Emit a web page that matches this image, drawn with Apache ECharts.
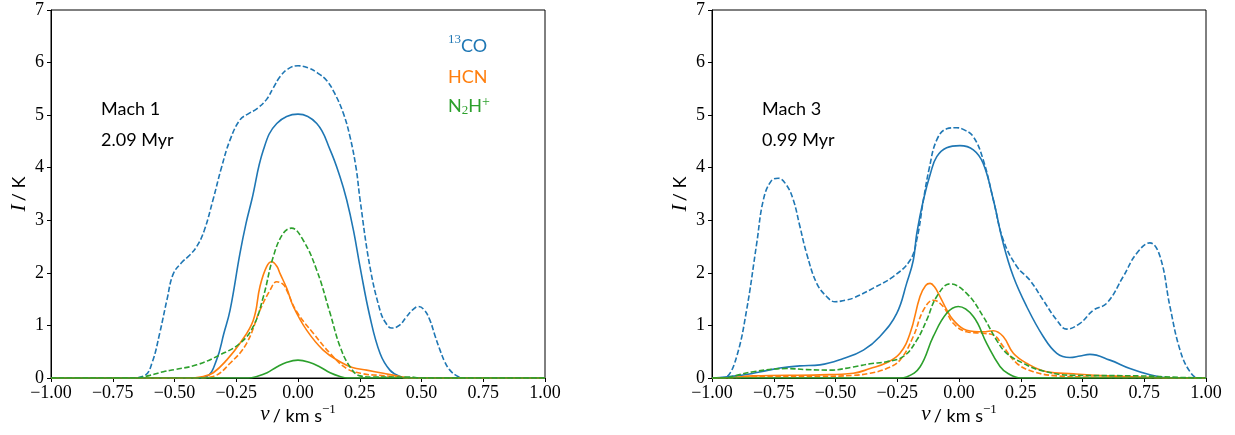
<!DOCTYPE html>
<html>
<head>
<meta charset="utf-8">
<script src="https://cdn.jsdelivr.net/npm/echarts@6/dist/echarts.min.js"></script>
<style>
html,body{margin:0;padding:0;background:#fff;}
#chart{width:1235px;height:435px;}
</style>
</head>
<body>
<div id="chart"></div>
<script>
// ---------- DATA (velocity v in km/s, intensity I in K) ----------
// Panel 1: Mach 1, 2.09 Myr
const m1CoSolidV = [-1, -0.42, -0.37, -0.33, -0.3, -0.275, -0.235, -0.21, -0.187, -0.14, -0.086, 0, 0.076, 0.13, 0.17, 0.197, 0.225, 0.251, 0.291, 0.332, 0.372, 0.413, 0.45, 1];
const m1CoSolidI = [0, 0, 0.03, 0.34, 0.85, 1.29, 2.37, 2.95, 3.39, 4.34, 4.84, 5.02, 4.84, 4.34, 3.83, 3.39, 2.8, 2.12, 1.17, 0.47, 0.15, 0.03, 0, 0];
const m1CoDashV = [-1, -0.68, -0.62, -0.59, -0.56, -0.53, -0.505, -0.47, -0.44, -0.41, -0.38, -0.344, -0.31, -0.275, -0.235, -0.2, -0.167, -0.127, -0.1, -0.073, -0.04, 0, 0.04, 0.08, 0.116, 0.15, 0.184, 0.21, 0.235, 0.251, 0.291, 0.332, 0.355, 0.379, 0.41, 0.44, 0.465, 0.487, 0.51, 0.534, 0.555, 0.575, 0.595, 0.615, 0.64, 0.67, 1];
const m1CoDashI = [0, 0, 0.05, 0.3, 0.85, 1.5, 1.98, 2.2, 2.33, 2.5, 2.8, 3.39, 4.0, 4.53, 4.91, 5.03, 5.12, 5.3, 5.52, 5.73, 5.88, 5.94, 5.9, 5.8, 5.66, 5.4, 5.03, 4.6, 4.0, 3.4, 2.12, 1.29, 1.05, 0.95, 1.0, 1.17, 1.3, 1.36, 1.3, 1.1, 0.8, 0.53, 0.3, 0.15, 0.05, 0, 0];
const m1HcnSolidV = [-1, -0.45, -0.383, -0.343, -0.289, -0.235, -0.181, -0.154, -0.127, -0.106, -0.085, -0.073, -0.045, -0.019, 0.035, 0.102, 0.17, 0.22, 0.278, 0.345, 0.40, 0.45, 1];
const m1HcnSolidI = [0, 0, 0.03, 0.1, 0.34, 0.66, 1.10, 1.74, 2.12, 2.21, 2.12, 1.99, 1.7, 1.36, 0.91, 0.53, 0.31, 0.2, 0.15, 0.09, 0.04, 0, 0];
const m1HcnDashV = [-1, -0.4, -0.343, -0.275, -0.208, -0.154, -0.113, -0.086, -0.06, -0.046, -0.005, 0.062, 0.13, 0.197, 0.264, 0.33, 0.4, 0.45, 1];
const m1HcnDashI = [0, 0, 0.03, 0.28, 0.66, 1.29, 1.67, 1.83, 1.78, 1.67, 1.26, 0.85, 0.47, 0.18, 0.08, 0.05, 0.02, 0, 0];
const m1N2hSolidV = [-1, -0.2, -0.167, -0.125, -0.086, -0.045, 0, 0.045, 0.089, 0.13, 0.17, 0.2, 1];
const m1N2hSolidI = [0, 0, 0.03, 0.1, 0.21, 0.3, 0.34, 0.3, 0.21, 0.1, 0.03, 0, 0];
const m1N2hDashV = [-1, -0.66, -0.6, -0.545, -0.5, -0.41, -0.316, -0.235, -0.181, -0.14, -0.1, -0.06, -0.026, 0.021, 0.076, 0.13, 0.17, 0.211, 0.251, 0.3, 0.45, 0.5, 1];
const m1N2hDashI = [0, 0, 0.05, 0.12, 0.16, 0.25, 0.44, 0.66, 0.98, 1.55, 2.31, 2.75, 2.85, 2.62, 2.05, 1.23, 0.60, 0.21, 0.04, 0.02, 0.02, 0, 0];

// Panel 2: Mach 3, 0.99 Myr
const m3CoSolidV = [-1, -0.968, -0.9, -0.833, -0.78, -0.725, -0.644, -0.563, -0.468, -0.387, -0.32, -0.252, -0.212, -0.185, -0.171, -0.144, -0.115, -0.09, -0.05, 0.004, 0.058, 0.098, 0.139, 0.179, 0.22, 0.274, 0.341, 0.396, 0.449, 0.49, 0.53, 0.611, 0.692, 0.773, 0.83, 0.9, 1];
const m3CoSolidI = [0, 0.01, 0.04, 0.09, 0.14, 0.19, 0.23, 0.25, 0.37, 0.53, 0.79, 1.23, 1.80, 2.24, 2.75, 3.39, 3.9, 4.21, 4.38, 4.42, 4.34, 4.08, 3.39, 2.56, 1.93, 1.36, 0.79, 0.47, 0.39, 0.42, 0.45, 0.34, 0.18, 0.06, 0.01, 0, 0];
const m3CoDashV = [-1, -0.96, -0.94, -0.9, -0.86, -0.819, -0.792, -0.76, -0.732, -0.7, -0.671, -0.645, -0.617, -0.576, -0.536, -0.502, -0.46, -0.428, -0.347, -0.266, -0.198, -0.17, -0.144, -0.12, -0.09, -0.05, -0.01, 0.017, 0.058, 0.098, 0.139, 0.179, 0.234, 0.287, 0.341, 0.396, 0.436, 0.49, 0.544, 0.598, 0.665, 0.719, 0.773, 0.814, 0.854, 0.895, 0.935, 0.97, 1];
const m3CoDashI = [0, 0, 0.02, 0.41, 1.29, 2.56, 3.39, 3.75, 3.80, 3.68, 3.39, 2.9, 2.37, 1.80, 1.55, 1.45, 1.48, 1.52, 1.71, 1.93, 2.24, 2.65, 3.39, 4.0, 4.53, 4.74, 4.76, 4.73, 4.59, 4.15, 3.39, 2.63, 2.12, 1.86, 1.48, 1.10, 0.93, 1.04, 1.29, 1.42, 1.93, 2.37, 2.57, 2.31, 1.36, 0.53, 0.12, 0, 0];
const m3HcnSolidV = [-1, -0.95, -0.833, -0.563, -0.428, -0.36, -0.293, -0.239, -0.198, -0.158, -0.135, -0.117, -0.1, -0.077, -0.05, -0.023, 0.031, 0.098, 0.139, 0.179, 0.22, 0.274, 0.355, 0.463, 0.6, 0.73, 0.85, 1];
const m3HcnSolidI = [0, 0, 0.04, 0.06, 0.09, 0.18, 0.29, 0.47, 0.85, 1.55, 1.76, 1.80, 1.74, 1.55, 1.3, 1.10, 0.91, 0.88, 0.90, 0.79, 0.47, 0.28, 0.12, 0.08, 0.04, 0.02, 0, 0];
const m3HcnDashV = [-1, -0.95, -0.833, -0.563, -0.428, -0.36, -0.293, -0.239, -0.185, -0.144, -0.104, -0.064, -0.023, 0.031, 0.098, 0.139, 0.179, 0.234, 0.301, 0.396, 0.5, 0.7, 1];
const m3HcnDashI = [0, 0, 0.02, 0.03, 0.05, 0.09, 0.18, 0.34, 0.79, 1.29, 1.48, 1.36, 1.04, 0.88, 0.85, 0.82, 0.60, 0.28, 0.12, 0.04, 0.02, 0.01, 0];
const m3N2hSolidV = [-1, -0.24, -0.212, -0.158, -0.104, -0.05, -0.003, 0.058, 0.112, 0.166, 0.2, 0.25, 1];
const m3N2hSolidI = [0, 0, 0.02, 0.21, 0.79, 1.23, 1.36, 1.17, 0.66, 0.22, 0.08, 0, 0];
const m3N2hDashV = [-1, -0.95, -0.9, -0.833, -0.698, -0.617, -0.522, -0.428, -0.36, -0.293, -0.225, -0.171, -0.131, -0.09, -0.036, 0.031, 0.098, 0.152, 0.193, 0.26, 0.328, 0.46, 0.73, 0.9, 1];
const m3N2hDashI = [0, 0, 0.05, 0.12, 0.18, 0.16, 0.15, 0.21, 0.27, 0.31, 0.41, 0.72, 1.10, 1.55, 1.79, 1.61, 1.17, 0.72, 0.47, 0.28, 0.15, 0.05, 0.04, 0.01, 0];

const panelLabels = [['Mach 1', '2.09 Myr'], ['Mach 3', '0.99 Myr']];
const xTicks = [-1, -0.75, -0.5, -0.25, 0, 0.25, 0.5, 0.75, 1];
const yTicks = [0, 1, 2, 3, 4, 5, 6, 7];

// ---------- STYLE ----------
const C_CO = '#1f77b4', C_HCN = '#ff7f0e', C_N2H = '#2ca02c';
const DASH = [5.5, 2.4];
const LW = 1.6;
const SERIF = '"Liberation Serif", "DejaVu Serif", serif';
const SANS = 'Lato, "Noto Sans", sans-serif';
const gridPos = [{left: 51, top: 10, width: 494, height: 368}, {left: 712, top: 10, width: 494, height: 368}];

function pairs(v, I) { return v.map((x, i) => [x, I[i]]); }

const panels = [
  [[m1CoSolidV, m1CoSolidI, C_CO, false], [m1CoDashV, m1CoDashI, C_CO, true],
   [m1HcnSolidV, m1HcnSolidI, C_HCN, false], [m1HcnDashV, m1HcnDashI, C_HCN, true],
   [m1N2hSolidV, m1N2hSolidI, C_N2H, false], [m1N2hDashV, m1N2hDashI, C_N2H, true]],
  [[m3CoSolidV, m3CoSolidI, C_CO, false], [m3CoDashV, m3CoDashI, C_CO, true],
   [m3HcnSolidV, m3HcnSolidI, C_HCN, false], [m3HcnDashV, m3HcnDashI, C_HCN, true],
   [m3N2hSolidV, m3N2hSolidI, C_N2H, false], [m3N2hDashV, m3N2hDashI, C_N2H, true]]
];

const series = [];
panels.forEach((list, p) => {
  list.forEach(([v, I, color, dashed]) => {
    series.push({
      type: 'line', xAxisIndex: p, yAxisIndex: p,
      data: pairs(v, I), showSymbol: false, symbol: 'none',
      smooth: 0.42, animation: false,
      lineStyle: {color: color, width: LW, type: dashed ? DASH : 'solid'}
    });
  });
});

const fmtX = v => (v < 0 ? '\u2212' : '') + Math.abs(v).toFixed(2);

const xAxes = gridPos.map((g, i) => ({
  type: 'value', gridIndex: i, min: -1, max: 1, interval: 0.25,
  axisLine: {show: true, onZero: false, lineStyle: {color: '#000', width: 1}},
  axisTick: {show: true, inside: false, length: 4, lineStyle: {color: '#000', width: 1}},
  axisLabel: {show: true, margin: 8, color: '#000', fontFamily: SERIF, fontSize: 18, lineHeight: 14,
    formatter: v => xTicks.includes(v) ? fmtX(v) : ''},
  splitLine: {show: false}
}));
const yAxes = gridPos.map((g, i) => ({
  type: 'value', gridIndex: i, min: 0, max: 7, interval: 1,
  axisLine: {show: true, onZero: false, lineStyle: {color: '#000', width: 1}},
  axisTick: {show: true, inside: false, length: 4, lineStyle: {color: '#000', width: 1}},
  axisLabel: {show: true, margin: 7, color: '#000', fontFamily: SERIF, fontSize: 18, lineHeight: 14,
    formatter: v => yTicks.includes(v) ? String(v) : ''},
  splitLine: {show: false}
}));

const graphics = [];
gridPos.forEach((g, i) => {
  const cx = g.left + g.width / 2;
  graphics.push({
    type: 'text', x: cx, y: 414,
    style: {
      text: '{it|v} {n|/ km s}{sup|\u22121}',
      align: 'center', verticalAlign: 'middle',
      rich: {
        it: {fontFamily: SERIF, fontStyle: 'italic', fontSize: 21, fill: '#000', lineHeight: 22, verticalAlign: 'bottom'},
        n: {fontFamily: SANS, fontSize: 18, fill: '#000', lineHeight: 22, verticalAlign: 'bottom'},
        sup: {fontFamily: SERIF, fontSize: 13, fill: '#000', lineHeight: 22, verticalAlign: 'top', padding: [0, 0, 6, 0]}
      }
    }
  });
  graphics.push({
    type: 'text', x: g.left - 32, y: g.top + g.height / 2, rotation: Math.PI / 2,
    style: {
      text: '{it|I} {n|/ K}', align: 'center', verticalAlign: 'middle',
      rich: {
        it: {fontFamily: SERIF, fontStyle: 'italic', fontSize: 21, fill: '#000'},
        n: {fontFamily: SANS, fontSize: 18, fill: '#000'}
      }
    }
  });
  graphics.push({type: 'text', x: g.left + 50, y: 109,
    style: {text: panelLabels[i][0], fontFamily: SANS, fontSize: 18, fill: '#000', align: 'left', verticalAlign: 'middle'}});
  graphics.push({type: 'text', x: g.left + 50, y: 140,
    style: {text: panelLabels[i][1], fontFamily: SANS, fontSize: 18, fill: '#000', align: 'left', verticalAlign: 'middle'}});
});

graphics.push({type: 'text', x: 448, y: 44,
  style: {text: '{sup|13}{n|CO}', align: 'left', verticalAlign: 'middle',
    rich: {
      sup: {fontFamily: SERIF, fontSize: 13, fill: C_CO, lineHeight: 22, verticalAlign: 'top', padding: [0, 0, 6, 0]},
      n: {fontFamily: SANS, fontSize: 18, fill: C_CO, lineHeight: 22, verticalAlign: 'bottom'}
    }}});
graphics.push({type: 'text', x: 448, y: 77,
  style: {text: 'HCN', fontFamily: SANS, fontSize: 18, fill: C_HCN, align: 'left', verticalAlign: 'middle'}});
graphics.push({type: 'text', x: 448, y: 106,
  style: {text: '{n|N}{sub|2}{n|H}{sup|+}', align: 'left', verticalAlign: 'middle',
    rich: {
      n: {fontFamily: SANS, fontSize: 18, fill: C_N2H, lineHeight: 22, verticalAlign: 'middle'},
      sub: {fontFamily: SERIF, fontSize: 13, fill: C_N2H, lineHeight: 22, verticalAlign: 'bottom'},
      sup: {fontFamily: SERIF, fontSize: 14, fill: C_N2H, lineHeight: 22, verticalAlign: 'top', padding: [0, 0, 4, 0]}
    }}});

const chart = echarts.init(document.getElementById('chart'));
chart.setOption({
  animation: false,
  backgroundColor: '#fff',
  grid: gridPos.map(g => Object.assign({show: true, borderColor: '#000', borderWidth: 1, backgroundColor: 'transparent', containLabel: false}, g)),
  xAxis: xAxes,
  yAxis: yAxes,
  series: series,
  graphic: graphics
});
</script>
</body>
</html>
